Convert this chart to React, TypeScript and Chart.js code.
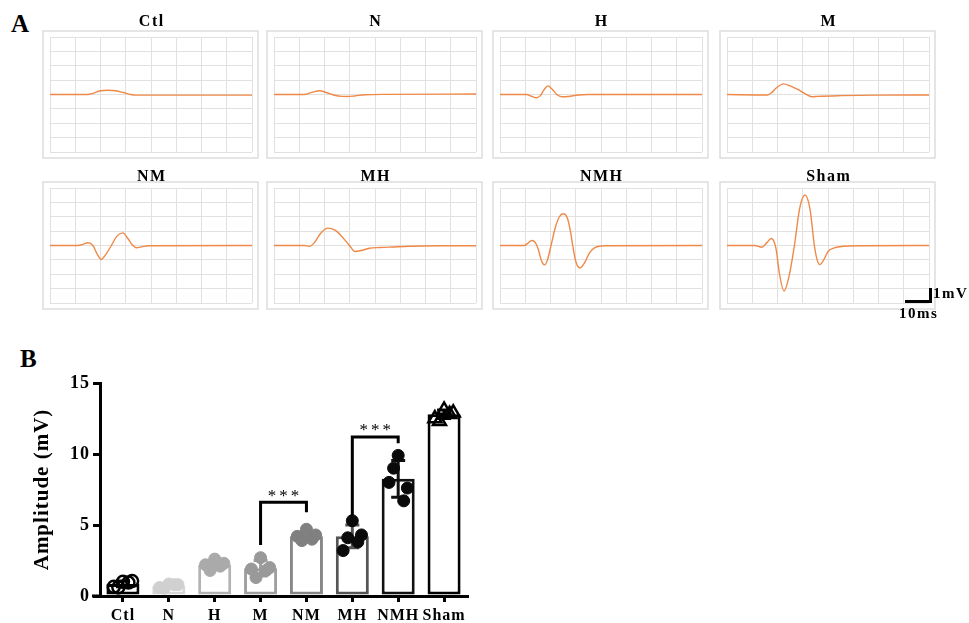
import React, { useEffect, useRef } from 'react';
import { Chart, registerables } from 'chart.js';

Chart.register(...registerables);

const SERIF = "'Liberation Serif', 'Times New Roman', 'DejaVu Serif', serif";
Chart.defaults.font.family = SERIF;

// ---------- Panel A : evoked waveforms (x in ms, y in grid units) ----------
const traceTitles = ['Ctl', 'N', 'H', 'M', 'NM', 'MH', 'NMH', 'Sham'];

const traceCtl = [[0, 0], [15, 0], [17, 0.08], [20, 0.26], [23, 0.3], [26, 0.26], [29, 0.14], [32, 0.0], [34, -0.04], [80, -0.04]];
const traceN = [[0, 0], [12, 0], [15, 0.15], [18, 0.26], [21, 0.12], [24, -0.05], [27, -0.13], [29, -0.14], [32, -0.1], [36, -0.02], [45, 0.01], [80, 0.03]];
const traceH = [[0, 0], [10.5, 0], [12.5, -0.12], [14.4, -0.23], [16, -0.08], [17.5, 0.35], [19, 0.6], [20.5, 0.4], [22.5, 0], [24.5, -0.16], [27, -0.14], [31, -0.03], [35, 0], [80, 0]];
const traceM = [[0, 0], [16, -0.03], [17.5, 0.1], [19.5, 0.45], [22.4, 0.74], [25, 0.6], [28, 0.35], [31, 0.05], [33.6, -0.16], [36, -0.13], [45, -0.08], [60, -0.04], [80, -0.03]];
const traceNM = [[0, 0], [11, 0], [13, 0.08], [15, 0.19], [17, 0], [18.7, -0.6], [20.3, -0.97], [22, -0.65], [24.3, 0], [26.5, 0.65], [28.9, 0.88], [31, 0.45], [32.6, 0.05], [34.2, -0.16], [36.5, -0.08], [39, -0.02], [80, 0]];
const traceMH = [[0, 0], [12, 0], [14, -0.06], [16, 0.2], [18.5, 0.85], [21.3, 1.21], [24, 1.08], [26.5, 0.7], [29.9, 0], [32.1, -0.42], [34.5, -0.35], [37.8, -0.19], [42, -0.14], [47, -0.1], [53.6, -0.05], [65, -0.02], [80, -0.02]];
const traceNMH = [[0, 0], [9.5, 0], [11, 0.15], [12.6, 0.35], [14, 0.2], [15.2, -0.3], [16.5, -1.1], [17.6, -1.35], [18.8, -1.0], [20.2, 0], [22, 1.3], [23.5, 2.0], [25.1, 2.21], [26.7, 1.9], [28, 0.9], [28.8, 0], [30, -1.1], [31.7, -1.56], [33.5, -1.2], [35.5, -0.5], [37.4, -0.17], [41.4, -0.02], [80, 0]];
const traceSham = [[0, 0], [11, 0], [13.8, -0.12], [15.8, 0.2], [17.5, 0.49], [18.7, 0.25], [19.5, -0.3], [20.8, -2.0], [22.6, -3.16], [24.5, -2.2], [26.7, 0], [28.8, 2.6], [30.9, 3.51], [32.9, 2.5], [34.6, 0], [35.7, -1.0], [36.8, -1.33], [38.3, -1.0], [40.1, -0.4], [42.5, -0.17], [44.7, -0.09], [54, -0.02], [80, 0]];

const traces = [traceCtl, traceN, traceH, traceM, traceNM, traceMH, traceNMH, traceSham];

// ---------- Panel B : amplitude bar chart ----------
const groups = ['Ctl', 'N', 'H', 'M', 'NM', 'MH', 'NMH', 'Sham'];
const meanAmp = [0.85, 0.72, 2.2, 1.95, 4.2, 4.2, 8.25, 12.8];
const sdAmp = [0.2, 0.15, 0.3, 0.55, 0.3, 0.8, 1.3, 0.3];
const ampCtl = [1.0, 0.65, 1.05, 0.6, 0.95];
const ampN = [0.85, 0.6, 0.8, 0.55, 0.8];
const ampH = [2.6, 2.2, 2.3, 1.8, 2.1];
const ampM = [2.7, 1.9, 2.0, 1.3, 1.8];
const ampNM = [4.7, 4.2, 4.3, 3.9, 4.0];
const ampMH = [5.3, 3.2, 4.3, 4.1, 3.8];
const ampNMH = [9.9, 8.0, 7.6, 9.0, 6.7];
const ampSham = [13.1, 12.5, 12.9, 12.3, 12.8];
const groupAmps = [ampCtl, ampN, ampH, ampM, ampNM, ampMH, ampNMH, ampSham];
const yTicks = [0, 5, 10, 15];

const bracketPairs = [[3, 4], [5, 6]];
const bracketTops = [6.6, 11.2];
const bracketLegEnds = [[3.6, 5.9], [5.6, 10.75]];
const bracketLabels = ['***', '***'];

// styles
const TRACE = 'rgb(239,137,72)';
const GRID = '#e3e0de';
const barColors = ['#000000', '#d6d6d6', '#b3b3b3', '#9f9f9f', '#878787', '#555555', '#111111', '#000000'];
const dotColors = ['#000000', '#d0d0d0', '#aaaaaa', '#999999', '#808080', '#0a0a0a', '#0a0a0a', '#000000'];
const jitter = [0, -0.2, 0.2, -0.1, 0.12];

type PanelProps = { idx: number; gL: number; gT: number; gW: number; gH: number; gap: number };

function TracePanel({ idx, gL, gT, gW, gH, gap }: PanelProps) {
  const ref = useRef<HTMLCanvasElement>(null);
  const w = gW + 20;
  const h = gH + 40;
  useEffect(() => {
    const title = traceTitles[idx];
    const decor = {
      id: 'decor',
      beforeDraw(chart: any) {
        const { ctx, chartArea: a } = chart;
        ctx.save();
        ctx.strokeStyle = '#dddddd';
        ctx.lineWidth = 1.5;
        ctx.strokeRect(a.left - 7, a.top - 6, a.width + 13, a.height + 12);
        ctx.restore();
      },
      afterDraw(chart: any) {
        const { ctx, chartArea: a } = chart;
        ctx.save();
        ctx.font = `bold 16px ${SERIF}`;
        ctx.fillStyle = '#000';
        ctx.textAlign = 'center';
        ctx.textBaseline = 'alphabetic';
        (ctx as any).letterSpacing = '1.5px';
        ctx.fillText(title, (a.left + a.right) / 2 + 0.75, a.top - gap);
        ctx.restore();
      },
    };
    const chart = new Chart(ref.current as HTMLCanvasElement, {
      type: 'line',
      data: {
        datasets: [
          {
            data: traces[idx].map(([x, y]) => ({ x, y })),
            borderColor: TRACE,
            borderWidth: 1.4,
            pointRadius: 0,
            cubicInterpolationMode: 'monotone',
            fill: false,
          } as any,
        ],
      },
      options: {
        animation: false,
        responsive: false,
        events: [],
        layout: { padding: { left: 10, right: 10, top: 30, bottom: 10 } },
        plugins: { legend: { display: false }, tooltip: { enabled: false } },
        scales: {
          x: {
            type: 'linear', min: 0, max: 80,
            ticks: { display: false, stepSize: 10 },
            grid: { color: GRID, drawTicks: false, lineWidth: 1 },
            border: { display: false },
            afterFit: (s: any) => { s.height = 0; },
          },
          y: {
            type: 'linear', min: -4, max: 4,
            ticks: { display: false, stepSize: 1 },
            grid: { color: GRID, drawTicks: false, lineWidth: 1 },
            border: { display: false },
            afterFit: (s: any) => { s.width = 0; },
          },
        },
      } as any,
      plugins: [decor],
    });
    return () => chart.destroy();
  }, [idx, gap]);
  return (
    <canvas
      ref={ref}
      width={w}
      height={h}
      style={{ position: 'absolute', left: gL - 10, top: gT - 30, width: w, height: h }}
    />
  );
}

function BarPanel() {
  const ref = useRef<HTMLCanvasElement>(null);
  useEffect(() => {
    const dots: any[] = [];
    groupAmps.forEach((vals, g) =>
      vals.forEach((v, k) => dots.push({ x: g + jitter[k % jitter.length], y: v, g }))
    );
    const spacing = {
      id: 'spacing',
      beforeUpdate(chart: any) { chart.ctx.letterSpacing = '1px'; },
      beforeDraw(chart: any) { chart.ctx.letterSpacing = '1px'; },
    };
    const errorBars = {
      id: 'errorBars',
      afterDatasetDraw(chart: any, args: any) {
        if (args.index !== 0) return;
        const { ctx, scales } = chart;
        ctx.save();
        ctx.lineWidth = 3;
        meanAmp.forEach((m, i) => {
          const x = scales.x.getPixelForValue(i);
          const yTop = scales.y.getPixelForValue(m + sdAmp[i]);
          const yBot = scales.y.getPixelForValue(m - sdAmp[i]);
          ctx.strokeStyle = barColors[i];
          ctx.beginPath();
          ctx.moveTo(x, yTop); ctx.lineTo(x, yBot);
          ctx.moveTo(x - 7, yTop); ctx.lineTo(x + 7, yTop);
          ctx.moveTo(x - 7, yBot); ctx.lineTo(x + 7, yBot);
          ctx.stroke();
        });
        ctx.restore();
      },
    };
    const brackets = {
      id: 'brackets',
      afterDraw(chart: any) {
        const { ctx, scales, chartArea } = chart;
        ctx.save();
        ctx.fillStyle = '#000';
        ctx.fillRect(chartArea.left - 8, chartArea.bottom - 1.5, 8, 3);
        ctx.strokeStyle = '#000';
        ctx.lineWidth = 3;
        ctx.lineJoin = 'miter';
        bracketPairs.forEach(([a, b], k) => {
          const xa = scales.x.getPixelForValue(a);
          const xb = scales.x.getPixelForValue(b);
          const yt = scales.y.getPixelForValue(bracketTops[k]);
          const ya = scales.y.getPixelForValue(bracketLegEnds[k][0]);
          const yb = scales.y.getPixelForValue(bracketLegEnds[k][1]);
          ctx.beginPath();
          ctx.moveTo(xa, ya); ctx.lineTo(xa, yt); ctx.lineTo(xb, yt); ctx.lineTo(xb, yb);
          ctx.stroke();
          ctx.font = `17px ${SERIF}`;
          ctx.textAlign = 'center';
          ctx.textBaseline = 'alphabetic';
          ctx.letterSpacing = '3px';
          ctx.fillText(bracketLabels[k], (xa + xb) / 2 + 1.5, yt - 1.5);
        });
        ctx.restore();
      },
    };
    const chart = new Chart(ref.current as HTMLCanvasElement, {
      type: 'bar',
      data: {
        datasets: [
          {
            type: 'bar',
            data: meanAmp.map((v, i) => ({ x: i, y: v })),
            backgroundColor: '#ffffff',
            borderColor: barColors,
            borderWidth: 3,
            borderSkipped: false,
            barPercentage: 0.9,
            categoryPercentage: 0.8,
            order: 1,
          },
          {
            type: 'scatter',
            data: dots,
            order: 0,
            pointStyle: (c: any) => (c.raw && c.raw.g === 7 ? 'triangle' : 'circle'),
            pointRadius: (c: any) => (c.raw && c.raw.g === 7 ? 7.5 : 6),
            pointBackgroundColor: (c: any) =>
              c.raw && (c.raw.g === 0 || c.raw.g === 7) ? 'rgba(255,255,255,0)' : dotColors[c.raw ? c.raw.g : 0],
            pointBorderColor: (c: any) => dotColors[c.raw ? c.raw.g : 0],
            pointBorderWidth: (c: any) => (c.raw && (c.raw.g === 0 || c.raw.g === 7) ? 2.5 : 1),
          },
        ] as any,
      },
      options: {
        animation: false,
        responsive: false,
        events: [],
        layout: { padding: { top: 23, right: 23, left: 0, bottom: 0 } },
        plugins: { legend: { display: false }, tooltip: { enabled: false } },
        scales: {
          x: {
            type: 'linear',
            min: -0.5,
            max: 7.5,
            offset: false,
            afterBuildTicks: (s: any) => { s.ticks = groups.map((_, i) => ({ value: i })); },
            ticks: {
              callback: (v: any) => groups[Math.round(v)] ?? '',
              font: { family: SERIF, size: 16, weight: 'bold' },
              color: '#000',
              padding: 4,
              autoSkip: false,
              maxRotation: 0,
            },
            grid: { display: true, offset: false, drawOnChartArea: false, drawTicks: true, tickLength: 6, color: '#000', lineWidth: 3, z: 1 },
            border: { display: true, color: '#000', width: 3, z: 1 },
            afterFit: (s: any) => { s.height = 27; },
          },
          y: {
            type: 'linear',
            min: 0,
            max: 15,
            afterBuildTicks: (s: any) => { s.ticks = yTicks.map((v) => ({ value: v })); },
            ticks: {
              font: { family: SERIF, size: 18, weight: 'bold' },
              color: '#000',
              padding: 3,
            },
            grid: { display: true, drawOnChartArea: false, drawTicks: true, tickLength: 7, color: '#000', lineWidth: 3, z: 1 },
            border: { display: true, color: '#000', width: 3, z: 1 },
            title: {
              display: true,
              text: 'Amplitude (mV)',
              font: { family: SERIF, size: 21, weight: 'bold' },
              color: '#000',
              padding: { top: 30, bottom: 0 },
            },
            afterFit: (s: any) => { s.width = 100; },
          },
        },
      } as any,
      plugins: [spacing, errorBars, brackets],
    });
    return () => chart.destroy();
  }, []);
  return (
    <canvas
      ref={ref}
      width={490}
      height={263}
      style={{ position: 'absolute', left: 0, top: 360, width: 490, height: 263 }}
    />
  );
}

const colLefts = [50, 274, 500, 727];
const rowTops = [37, 188];
const rowTitleGaps = [11.5, 7];

const labelStyle: React.CSSProperties = {
  position: 'absolute',
  fontFamily: SERIF,
  fontWeight: 'bold',
  lineHeight: 1,
  color: '#000',
  whiteSpace: 'nowrap',
};

export default function App() {
  return (
    <div style={{ position: 'absolute', left: 0, top: 0, width: 969, height: 623, background: '#fff', overflow: 'hidden' }}>
      <div style={{ ...labelStyle, left: 11, top: 11, fontSize: 25 }}>A</div>
      <div style={{ ...labelStyle, left: 20, top: 346, fontSize: 25 }}>B</div>
      {traceTitles.map((_, i) => (
        <TracePanel
          key={i}
          idx={i}
          gL={colLefts[i % 4]}
          gT={rowTops[Math.floor(i / 4)]}
          gW={202}
          gH={115}
          gap={rowTitleGaps[Math.floor(i / 4)]}
        />
      ))}
      <div style={{ position: 'absolute', left: 929, top: 288, width: 3, height: 15, background: '#000' }} />
      <div style={{ position: 'absolute', left: 905, top: 300, width: 27, height: 3, background: '#000' }} />
      <div style={{ ...labelStyle, left: 933, top: 285.5, fontSize: 15, letterSpacing: '1.5px' }}>1mV</div>
      <div style={{ ...labelStyle, left: 899, top: 305.5, fontSize: 15, letterSpacing: '1.5px' }}>10ms</div>
      <BarPanel />
    </div>
  );
}
